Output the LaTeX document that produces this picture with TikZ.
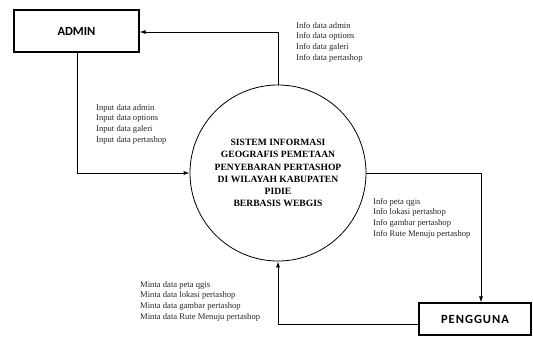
\documentclass[tikz,border=0pt]{standalone}
\usepackage{fontspec}
\setmainfont{Liberation Serif}
\newfontfamily\boxfont{Carlito}
\usetikzlibrary{arrows.meta}
\begin{document}
\begin{tikzpicture}[x=1pt,y=-1pt,
  entity/.style={draw,line width=1.1pt,minimum width=125pt,minimum height=42pt,inner sep=0pt,font=\boxfont\bfseries\fontsize{12.5}{14}\selectfont},
  proc/.style={draw,line width=0.8pt,circle,minimum size=176pt,inner sep=0pt,align=center,font=\bfseries\fontsize{9.6}{12.1}\selectfont},
  flow/.style={line width=0.8pt,-{Latex[length=6pt,width=4pt]}},
  lbl/.style={anchor=north west,inner sep=0pt,align=left,text=black!85,font=\fontsize{8.6}{10.7}\selectfont}]
\useasboundingbox (0,0) rectangle (533,345);
\node[entity] (admin) at (76.5,31) {ADMIN};
\node[entity,minimum width=112pt,minimum height=32pt,font=\boxfont\bfseries\fontsize{12.5}{14}\selectfont\addfontfeature{LetterSpace=8}] (user) at (475,319) {PENGGUNA};
\node[proc] (sys) at (278,173) {SISTEM INFORMASI\\GEOGRAFIS PEMETAAN\\PENYEBARAN PERTASHOP\\DI WILAYAH KABUPATEN\\PIDIE\\BERBASIS WEBGIS};
\coordinate (c1) at (278,32);
\coordinate (c2) at (77,173);
\coordinate (c3) at (481,173);
\coordinate (c4) at (278,324);
\draw[flow] (sys.north) -- (c1) -- (admin.east |- c1);
\draw[flow] (admin.south -| c2) -- (c2) -- (sys.west);
\draw[flow] (sys.east) -- (c3) -- (user.north -| c3);
\draw[flow] (user.west |- c4) -- (c4) -- (sys.south);
\node[lbl] (l1) at (296,22) {Info data admin\\Info data options\\Info data galeri\\Info data pertashop};
\node[lbl] (l2) at (96,104) {Input data admin\\Input data options\\Input data galeri\\Input data pertashop};
\node[lbl] (l3) at (373,198) {Info peta qgis\\Info lokasi pertashop\\Info gambar pertashop\\Info Rute Menuju pertashop};
\node[lbl] (l4) at (140,281) {Minta data peta qgis\\Minta data lokasi pertashop\\Minta data gambar pertashop\\Minta data Rute Menuju pertashop};
\end{tikzpicture}
\end{document}
